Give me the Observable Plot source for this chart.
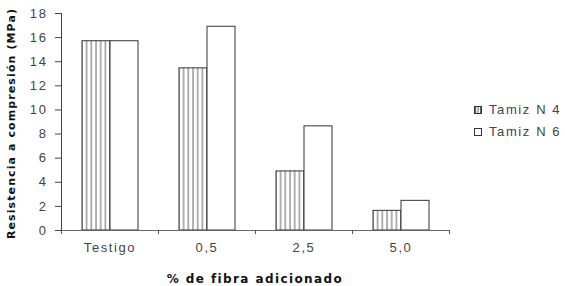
<!DOCTYPE html>
<html>
<head>
<meta charset="utf-8">
<script src="https://cdn.jsdelivr.net/npm/d3@7"></script>
<script src="https://cdn.jsdelivr.net/npm/@observablehq/plot@0.6"></script>
<style>
  html, body { margin: 0; padding: 0; background: #fff; }
</style>
</head>
<body>
<div id="chart"></div>
<script>
const categories = ["Testigo", "0,5", "2,5", "5,0"];
const series = ["Tamiz N 4", "Tamiz N 6"];
const tamizN4 = [15.7, 13.45, 4.9, 1.63];
const tamizN6 = [15.7, 16.9, 8.64, 2.46];
const yTicks = [0, 2, 4, 6, 8, 10, 12, 14, 16, 18];
const xTitle = "% de fibra adicionado";
const yTitle = "Resistencia a compresión (MPa)";

const data = categories.flatMap((c, i) => [
  {cat: c, s: series[0], v: tamizN4[i]},
  {cat: c, s: series[1], v: tamizN6[i]}
]);

const chart = Plot.plot({
  width: 565,
  height: 286,
  marginLeft: 60,
  marginRight: 115,
  marginTop: 13,
  marginBottom: 56,
  style: {fontFamily: "'Liberation Sans', Arial, sans-serif", fontSize: "13px", letterSpacing: "1.6px", color: "#444", background: "#fff"},
  fx: {domain: categories, padding: 0, label: null, tickSize: 0, tickPadding: 12},
  x: {domain: series, paddingInner: 0, paddingOuter: 0.68, axis: null},
  y: {domain: [0, 18], ticks: yTicks, tickSize: 6, tickPadding: 8, label: null, line: true},
  marks: [
    Plot.barY(data.filter(d => d.s === series[0]), {fx: "cat", x: "s", y: "v", fill: "url(#vhatch)", stroke: "#333", strokeWidth: 1}),
    Plot.barY(data.filter(d => d.s === series[1]), {fx: "cat", x: "s", y: "v", fill: "white", stroke: "#333", strokeWidth: 1}),
    Plot.ruleY([0], {stroke: "#666"})
  ]
});

const svg = d3.select(chart);
const defs = svg.insert("defs", ":first-child");
const p = defs.append("pattern").attr("id", "vhatch").attr("patternUnits", "userSpaceOnUse")
  .attr("width", 4.7).attr("height", 10);
p.append("rect").attr("width", 4.7).attr("height", 10).attr("fill", "white");
p.append("line").attr("x1", 1).attr("x2", 1).attr("y1", 0).attr("y2", 10).attr("stroke", "#666").attr("stroke-width", 1);
const ps = defs.append("pattern").attr("id", "vhatchSmall").attr("patternUnits", "userSpaceOnUse")
  .attr("width", 2.4).attr("height", 10);
ps.append("rect").attr("width", 2.4).attr("height", 10).attr("fill", "white");
ps.append("line").attr("x1", 0.5).attr("x2", 0.5).attr("y1", 0).attr("y2", 10).attr("stroke", "#555").attr("stroke-width", 1);

// boundary ticks on the x axis from the fx scale
const fx = chart.scale("fx");
const ys = chart.scale("y");
const y0 = ys.apply(0);
const edges = categories.map(c => fx.apply(c));
edges.push(fx.apply(categories[categories.length - 1]) + fx.bandwidth);
svg.append("g").attr("stroke", "#555").selectAll("line").data(edges).join("line")
  .attr("x1", d => d + 0.5).attr("x2", d => d + 0.5).attr("y1", y0).attr("y2", y0 + 4);

// titles
svg.append("text").text(xTitle)
  .attr("x", (edges[0] + edges[edges.length - 1]) / 2).attr("y", 283)
  .attr("text-anchor", "middle").attr("fill", "#111")
  .style("font-family", "'DejaVu Sans', sans-serif").style("font-weight", "bold")
  .style("font-size", "12px").style("letter-spacing", "1.4px");
svg.append("text").text(yTitle)
  .attr("transform", `translate(15,${(ys.apply(0) + ys.apply(18)) / 2 + 2}) rotate(-90)`)
  .attr("text-anchor", "middle").attr("fill", "#111")
  .style("font-family", "'DejaVu Sans', sans-serif").style("font-weight", "bold")
  .style("font-size", "11px").style("letter-spacing", "1.1px");

// legend
const lg = svg.append("g").attr("text-anchor", "start");
[["url(#vhatchSmall)", 106, 114], ["white", 128, 136]].forEach(([f, ry, ty], i) => {
  lg.append("rect").attr("x", 474.5).attr("y", ry + 0.5).attr("width", 7).attr("height", 7)
    .attr("fill", f).attr("stroke", "#333");
  lg.append("text").text(series[i]).attr("x", 489).attr("y", ty)
    .attr("text-anchor", "start").attr("fill", "#444");
});

document.getElementById("chart").appendChild(chart);
</script>
</body>
</html>
